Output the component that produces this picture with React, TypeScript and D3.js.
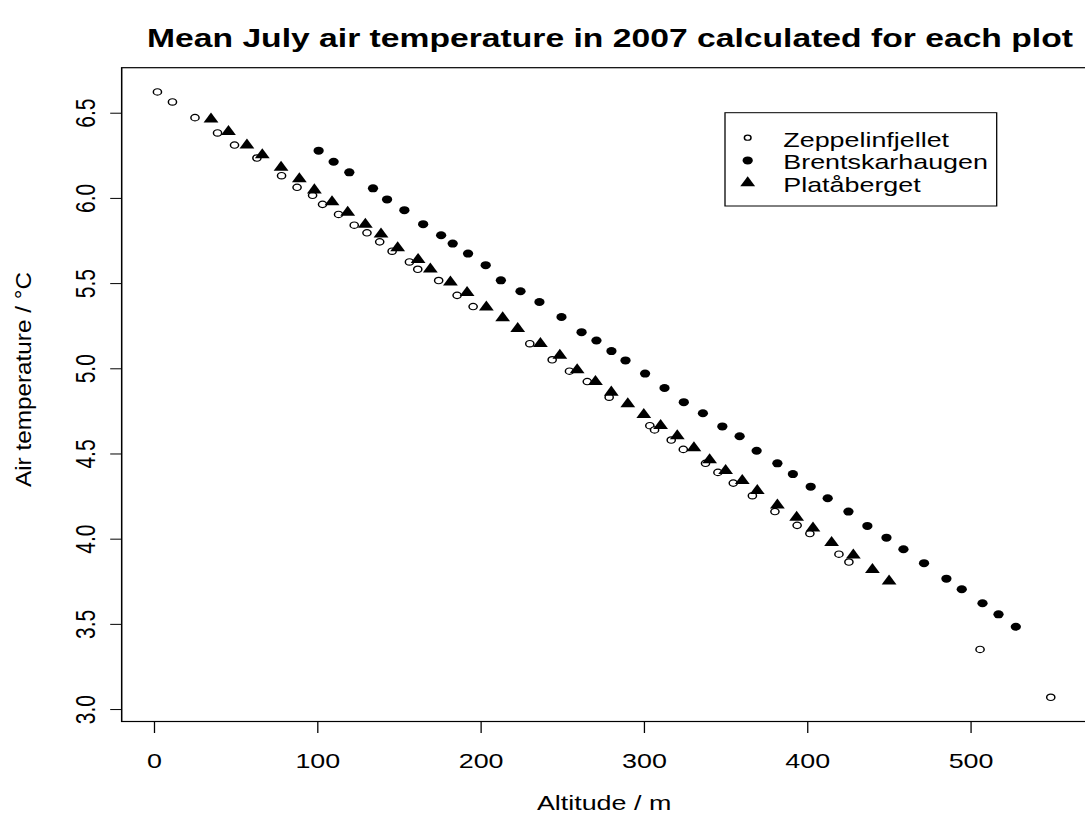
import React from "react";
import * as d3 from "d3";

// Altitude (m) and mean July 2007 air temperature (°C) for each plot
const zeppelinAlt = [1.8, 11.0, 24.8, 38.6, 49.0, 62.7, 77.8, 87.3, 96.8, 102.9, 112.7, 122.3, 130.1, 137.9, 145.5, 156.1, 161.2, 174.0, 185.3, 195.1, 229.8, 243.5, 254.1, 265.0, 278.4, 303.3, 306.2, 316.4, 323.8, 337.4, 345.0, 354.4, 366.1, 379.9, 393.5, 401.3, 419.1, 425.2, 505.5, 548.8];
const zeppelinTemp = [6.625, 6.566, 6.474, 6.384, 6.313, 6.237, 6.133, 6.065, 6.018, 5.965, 5.906, 5.843, 5.798, 5.745, 5.69, 5.627, 5.584, 5.518, 5.431, 5.365, 5.147, 5.053, 4.986, 4.925, 4.833, 4.666, 4.641, 4.582, 4.527, 4.445, 4.392, 4.329, 4.255, 4.162, 4.081, 4.033, 3.912, 3.866, 3.353, 3.072];

const brentAlt = [100.5, 109.7, 119.3, 133.8, 142.4, 153.0, 164.5, 175.5, 182.6, 192.0, 202.8, 212.1, 224.1, 235.7, 249.2, 261.5, 270.6, 279.8, 288.4, 300.4, 312.3, 324.1, 335.8, 347.7, 358.3, 368.7, 381.4, 390.9, 401.8, 412.2, 424.9, 436.5, 448.2, 458.6, 471.2, 484.9, 494.3, 507.0, 516.8, 527.4];
const brentTemp = [6.28, 6.215, 6.153, 6.059, 5.994, 5.931, 5.849, 5.784, 5.735, 5.676, 5.608, 5.519, 5.455, 5.392, 5.304, 5.215, 5.166, 5.104, 5.049, 4.972, 4.887, 4.804, 4.739, 4.662, 4.604, 4.519, 4.445, 4.382, 4.308, 4.24, 4.162, 4.078, 4.009, 3.941, 3.859, 3.768, 3.706, 3.624, 3.559, 3.486];

const plataAlt = [34.6, 45.3, 56.6, 66.0, 77.5, 88.7, 97.9, 108.7, 118.3, 129.1, 138.7, 148.9, 161.4, 168.9, 181.2, 191.4, 203.2, 213.2, 222.4, 236.3, 248.2, 258.8, 270.0, 279.7, 289.8, 299.6, 309.9, 320.1, 330.3, 339.9, 349.7, 359.9, 369.1, 381.4, 393.2, 403.2, 414.6, 427.9, 439.6, 449.8];
const plataTemp = [6.465, 6.392, 6.312, 6.255, 6.182, 6.114, 6.049, 5.98, 5.918, 5.847, 5.79, 5.709, 5.641, 5.584, 5.509, 5.447, 5.362, 5.298, 5.235, 5.147, 5.078, 4.994, 4.925, 4.862, 4.794, 4.731, 4.666, 4.606, 4.535, 4.465, 4.402, 4.343, 4.284, 4.2, 4.127, 4.065, 3.98, 3.906, 3.821, 3.753];

const xTicks = [0, 100, 200, 300, 400, 500];
const yTicks = [3.0, 3.5, 4.0, 4.5, 5.0, 5.5, 6.0, 6.5];
const legendLabels = ["Zeppelinfjellet", "Brentskarhaugen", "Platåberget"];

const W = 1085;
const H = 814;
// the whole figure is drawn with a horizontal stretch
const S = 1.28;
const FONT = "'Liberation Sans', Arial, Helvetica, sans-serif";

// R-style axis limits: data range widened by 4% on each side
const expand = (ext: [number, number]): [number, number] => {
  const r = ext[1] - ext[0];
  return [ext[0] - 0.04 * r, ext[1] + 0.04 * r];
};

const plot = { left: 121.7, right: 1086.5, top: 67.7, bottom: 721.5 };

const triangle = d3.symbol(d3.symbolTriangle, 58)() as string;

type Pt = { a: number; t: number };
const zip = (a: number[], t: number[]): Pt[] => a.map((v, i) => ({ a: v, t: t[i] }));

export default function App() {
  const allAlt = [...zeppelinAlt, ...brentAlt, ...plataAlt];
  const allTemp = [...zeppelinTemp, ...brentTemp, ...plataTemp];
  const x = d3
    .scaleLinear()
    .domain(expand(d3.extent(allAlt) as [number, number]))
    .range([plot.left / S, plot.right / S]);
  const y = d3
    .scaleLinear()
    .domain(expand(d3.extent(allTemp) as [number, number]))
    .range([plot.bottom, plot.top]);

  const zep = zip(zeppelinAlt, zeppelinTemp);
  const bre = zip(brentAlt, brentTemp);
  const pla = zip(plataAlt, plataTemp);

  const cx = (plot.left + plot.right) / 2 / S;

  const openCircle = (px: number, py: number, key: any, r = 3.2) => (
    <circle key={key} cx={px} cy={py} r={r} fill="white" stroke="black" strokeWidth={1.15} />
  );
  const filledCircle = (px: number, py: number, key: any) => (
    <circle key={key} cx={px} cy={py} r={4.0} fill="black" />
  );
  const tri = (px: number, py: number, key: any) => (
    <path key={key} d={triangle} transform={`translate(${px},${py})`} fill="black" />
  );

  const legend = { left: 725 / S, right: 996.7 / S, top: 112.7, bottom: 206 };
  const legendBase = [146.7, 169.4, 192];
  const legendSym = [
    (px: number, py: number, k: any) => openCircle(px, py, k, 2.6),
    filledCircle,
    tri,
  ];

  return (
    <svg
      width={W}
      height={H}
      viewBox={`0 0 ${W} ${H}`}
      style={{ position: "absolute", left: 0, top: 0, background: "white", display: "block" }}
      fontFamily={FONT}
    >
      <rect x={0} y={0} width={W} height={H} fill="white" />
      <g transform={`scale(${S},1)`}>
        <text
          x={610 / S}
          y={47}
          textAnchor="middle"
          fontWeight="bold"
          fontSize={26}
          textLength={926 / S}
          lengthAdjust="spacingAndGlyphs"
        >
          Mean July air temperature in 2007 calculated for each plot
        </text>

        {/* plot frame */}
        <rect
          x={plot.left / S}
          y={plot.top}
          width={(plot.right - plot.left) / S}
          height={plot.bottom - plot.top}
          fill="none"
          stroke="black"
          strokeWidth={1.2}
        />

        {/* x axis */}
        {xTicks.map((v) => (
          <g key={"xt" + v}>
            <line x1={x(v)} x2={x(v)} y1={plot.bottom} y2={plot.bottom + 11.5} stroke="black" strokeWidth={1} />
            <text x={x(v)} y={767.7} textAnchor="middle" fontSize={21}>
              {v}
            </text>
          </g>
        ))}
        <text x={cx} y={810} textAnchor="middle" fontSize={21}>
          Altitude / m
        </text>

        {/* y axis */}
        {yTicks.map((v) => (
          <g key={"yt" + v}>
            <line x1={(plot.left - 11.5) / S} x2={plot.left / S} y1={y(v)} y2={y(v)} stroke="black" strokeWidth={1} />
            <text transform={`translate(${95 / S},${y(v)}) rotate(-90)`} textAnchor="middle" fontSize={21}>
              {v.toFixed(1)}
            </text>
          </g>
        ))}
        <text
          transform={`translate(${31 / S},${379.5}) rotate(-90)`}
          textAnchor="middle"
          fontSize={17}
          textLength={215}
          lengthAdjust="spacingAndGlyphs"
        >
          Air temperature / °C
        </text>

        {/* points */}
        {zep.map((d, i) => openCircle(x(d.a), y(d.t), "z" + i))}
        {bre.map((d, i) => filledCircle(x(d.a), y(d.t), "b" + i))}
        {pla.map((d, i) => tri(x(d.a), y(d.t), "p" + i))}

        {/* legend */}
        <rect
          x={legend.left}
          y={legend.top}
          width={legend.right - legend.left}
          height={legend.bottom - legend.top}
          fill="white"
          stroke="black"
          strokeWidth={1}
        />
        {legendLabels.map((lab, i) => (
          <g key={lab}>
            {legendSym[i](747.7 / S, legendBase[i] - 9, "ls" + i)}
            <text x={783.3 / S} y={legendBase[i]} fontSize={21}>
              {lab}
            </text>
          </g>
        ))}
      </g>
    </svg>
  );
}
